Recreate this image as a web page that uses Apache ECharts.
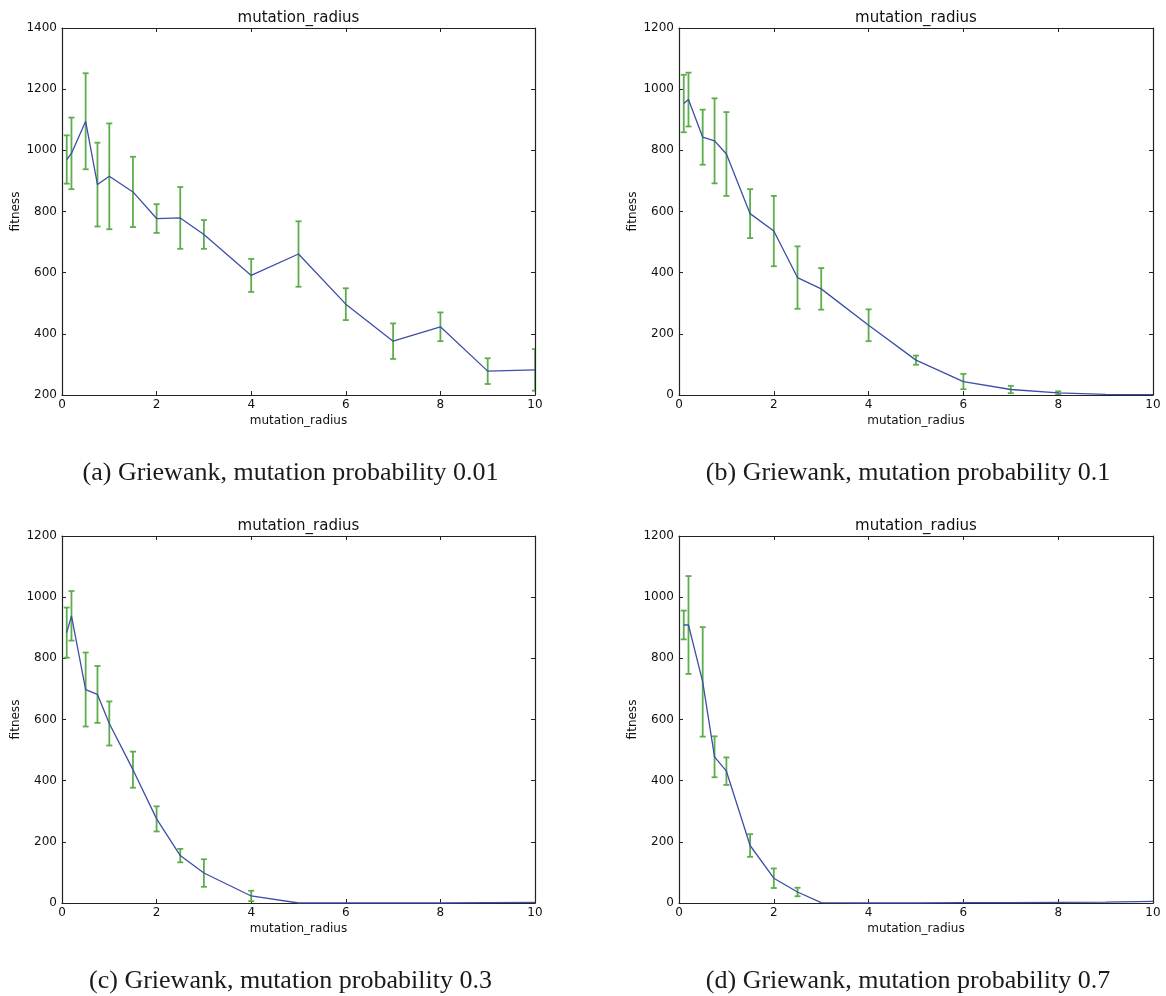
<!DOCTYPE html>
<html>
<head>
<meta charset="utf-8">
<script src="https://cdn.jsdelivr.net/npm/echarts@6/dist/echarts.min.js"></script>
<style>
  html, body { margin: 0; padding: 0; background: #fff; }
  #chart { width: 1166px; height: 996px; }
</style>
</head>
<body>
<div id="chart"></div>
<script>
// Mutation radius values sampled in every run
const xRadius = [0.1, 0.2, 0.5, 0.75, 1, 1.5, 2, 2.5, 3, 4, 5, 6, 7, 8, 9, 10];

// (a) mutation probability 0.01
const fitnessA = [970, 990, 1095, 888, 915, 864, 777, 779, 725, 591, 661, 497, 376, 423, 278, 282];
const errA     = [79, 117, 157, 137, 173, 115, 47, 101, 47, 54, 107, 52, 58, 47, 42, 68];

// (b) mutation probability 0.1
const fitnessB = [953, 966, 843, 831, 788, 593, 536, 384, 347, 228, 114, 44, 18, 7, 2, 1];
const errB     = [94, 88, 90, 139, 137, 80, 115, 102, 68, 52, 15, 25, 12, 5, 0, 0];

// (c) mutation probability 0.3
const fitnessC = [884, 939, 698, 682, 587, 436, 275, 155, 98, 23, 0, 0, 0, 0, 1, 2];
const errC     = [82, 81, 121, 93, 72, 59, 41, 22, 45, 17, 0, 0, 0, 0, 0, 0];

// (d) mutation probability 0.7
const fitnessD = [909, 909, 723, 478, 431, 188, 81, 36, 1, 0, 0, 1, 1, 2, 3, 5];
const errD     = [47, 160, 179, 67, 45, 37, 32, 14, 0, 0, 0, 0, 0, 0, 0, 0];

const captions = [
  '(a) Griewank, mutation probability 0.01',
  '(b) Griewank, mutation probability 0.1',
  '(c) Griewank, mutation probability 0.3',
  '(d) Griewank, mutation probability 0.7'
];
const plotTitle = 'mutation_radius';
const xName = 'mutation_radius';
const yName = 'fitness';

const LINE_COLOR = '#3d4ea8';
const ERR_COLOR = '#5dad4d';
const AXIS_COLOR = '#222';
const SANS = 'DejaVu Sans';

const panels = [
  { fit: fitnessA, err: errA, yMin: 200, yMax: 1400, box: { left: 62,  top: 28,  width: 473, height: 367 }, cap: captions[0] },
  { fit: fitnessB, err: errB, yMin: 0,   yMax: 1200, box: { left: 679, top: 28,  width: 474, height: 367 }, cap: captions[1] },
  { fit: fitnessC, err: errC, yMin: 0,   yMax: 1200, box: { left: 62,  top: 536, width: 473, height: 367 }, cap: captions[2] },
  { fit: fitnessD, err: errD, yMin: 0,   yMax: 1200, box: { left: 679, top: 536, width: 474, height: 367 }, cap: captions[3] }
];

// Vertical error bar with short caps, from mean - err to mean + err
function renderErrorBar(params, api) {
  const x = api.value(0), lo = api.value(1), hi = api.value(2);
  if (hi - lo < 1) return null;
  const pLo = api.coord([x, lo]);
  const pHi = api.coord([x, hi]);
  const hw = 3;
  const style = { stroke: ERR_COLOR, lineWidth: 1.8 };
  return {
    type: 'group',
    children: [
      { type: 'line', shape: { x1: pLo[0], y1: pLo[1], x2: pHi[0], y2: pHi[1] }, style: style },
      { type: 'line', shape: { x1: pLo[0] - hw, y1: pLo[1], x2: pLo[0] + hw, y2: pLo[1] }, style: style },
      { type: 'line', shape: { x1: pHi[0] - hw, y1: pHi[1], x2: pHi[0] + hw, y2: pHi[1] }, style: style }
    ]
  };
}

const grid = [], xAxis = [], yAxis = [], series = [], graphic = [];
const axisLine = { show: true, onZero: false, lineStyle: { color: AXIS_COLOR, width: 1.2 } };
const axisTick = { show: true, inside: true, length: 4, lineStyle: { color: AXIS_COLOR, width: 1 } };
const axisLabel = {
  color: '#111', fontFamily: SANS, fontSize: 12, margin: 5,
  showMinLabel: true, showMaxLabel: true,
  formatter: v => String(v)
};

panels.forEach((p, i) => {
  grid.push(Object.assign({ containLabel: false }, p.box));
  // bottom and top x axes
  xAxis.push({
    type: 'value', gridIndex: i, position: 'bottom', min: 0, max: 10, interval: 2,
    axisLine, axisTick, splitLine: { show: false },
    axisLabel: Object.assign({}, axisLabel, { margin: 4 }),
    name: xName, nameLocation: 'middle', nameGap: 20,
    nameTextStyle: { color: '#111', fontFamily: SANS, fontSize: 12 }
  });
  xAxis.push({
    type: 'value', gridIndex: i, position: 'top', min: 0, max: 10, interval: 2,
    axisLine, axisTick, splitLine: { show: false }, axisLabel: { show: false }
  });
  // left and right y axes
  yAxis.push({
    type: 'value', gridIndex: i, position: 'left', min: p.yMin, max: p.yMax, interval: 200,
    axisLine, axisTick, splitLine: { show: false }, axisLabel,
    name: yName, nameLocation: 'middle', nameGap: 40,
    nameTextStyle: { color: '#111', fontFamily: SANS, fontSize: 12 }
  });
  yAxis.push({
    type: 'value', gridIndex: i, position: 'right', min: p.yMin, max: p.yMax, interval: 200,
    axisLine, axisTick, splitLine: { show: false }, axisLabel: { show: false }
  });

  series.push({
    type: 'custom', xAxisIndex: 2 * i, yAxisIndex: 2 * i, clip: true, z: 2,
    renderItem: renderErrorBar,
    data: xRadius.map((x, k) => [x, p.fit[k] - p.err[k], p.fit[k] + p.err[k]])
  });
  series.push({
    type: 'line', xAxisIndex: 2 * i, yAxisIndex: 2 * i, z: 3,
    data: xRadius.map((x, k) => [x, p.fit[k]]),
    showSymbol: false, symbol: 'none', animation: false,
    lineStyle: { color: LINE_COLOR, width: 1.3 }
  });

  const cx = p.box.left + p.box.width / 2;
  graphic.push({
    type: 'text', x: cx, y: p.box.top - 10,
    style: { text: plotTitle, font: '15px "DejaVu Sans"', fill: '#111', textAlign: 'center', textVerticalAlign: 'middle' }
  });
  graphic.push({
    type: 'text', x: cx - 8, y: p.box.top + p.box.height + 78,
    style: { text: p.cap, font: '26px "Liberation Serif"', fill: '#1a1a1a', textAlign: 'center', textVerticalAlign: 'middle' }
  });
});

const chart = echarts.init(document.getElementById('chart'), null, { renderer: 'canvas' });
chart.setOption({
  backgroundColor: '#fff',
  animation: false,
  grid, xAxis, yAxis, series, graphic
});
</script>
</body>
</html>
